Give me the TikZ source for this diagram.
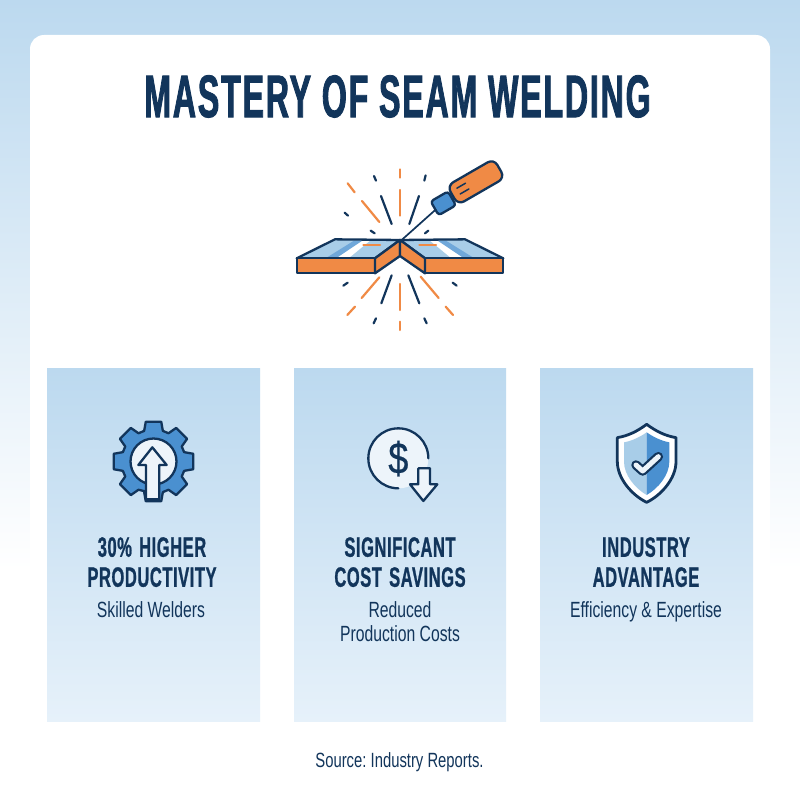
\documentclass[tikz,border=0pt]{standalone}
\usepackage{fontspec}
\setmainfont{Liberation Sans}
\newfontfamily\titlefont[FakeStretch=0.536,FakeBold=1.4,LetterSpace=3]{Liberation Sans Bold}
\newfontfamily\headfont[FakeStretch=0.59,FakeBold=0.8,LetterSpace=2,WordSpace=1.4]{Liberation Sans Bold}
\newfontfamily\subfont[FakeStretch=0.715]{Liberation Sans}
\newfontfamily\srcfont[FakeStretch=0.72]{Liberation Sans}
\newfontfamily\dollarfont[FakeStretch=0.82,FakeBold=0.5]{Liberation Sans}
\usetikzlibrary{calc}
\definecolor{navy}{HTML}{12355B}
\definecolor{sky}{HTML}{BCD9EF}
\definecolor{panelend}{HTML}{E6F1FA}
\definecolor{midblue}{HTML}{4A90D0}
\definecolor{paleblue}{HTML}{A8CDE8}
\definecolor{softwhite}{HTML}{EDF4FA}
\definecolor{torange}{HTML}{F08A45}
\tikzset{
  panel/.style={top color=sky,bottom color=panelend,draw=none},
  heading/.style={anchor=north,inner sep=0pt,align=center,text=navy,font=\headfont\fontsize{28}{30}\selectfont},
  subtext/.style={anchor=north,inner sep=0pt,align=center,text=navy,font=\subfont\fontsize{22}{24.5}\selectfont},
  ink/.style={draw=navy,line width=2.3pt,line join=round,line cap=round},
  sparko/.style={draw=torange,line width=2.2pt,line cap=round},
  sparkn/.style={draw=navy,line width=2.2pt,line cap=round},
  zoomed/.style={x=0.3333pt,y=-0.3333pt},
}
\begin{document}
\frenchspacing
\begin{tikzpicture}[x=1pt,y=-1pt]
\useasboundingbox (0,0) rectangle (800,800);
\fill[white] (0,0) rectangle (800,800);
\shade[top color=sky,bottom color=white] (0,0) rectangle (800,570);
\fill[white,rounded corners=14pt] (30,35) rectangle (770,800);
\shade[panel] (47,368) rectangle (260,721);
\shade[panel] (294,368) rectangle (506,721);
\shade[panel] (540,368) rectangle (753,721);

\node[anchor=north,inner sep=0pt,text=navy,font=\titlefont\fontsize{60}{62}\selectfont] (title) at (397.5,75) {MASTERY OF SEAM WELDING};

% welding illustration
\begin{scope}[shift={(280,150)},zoomed]
  \foreach \a/\b/\c/\d in {360/58/360/83,360/120/360/197,203/100/224/127,246/153/298/216,360/402/360/480,360/515/360/540,298/382/245/444,225/470/202/495,422/380/476/444,497/470/519/495}
    \draw[sparko] (\a,\b) -- (\c,\d);
  \foreach \a/\b/\c/\d in {282/78/288/92,437/76/433/92,303/138/335/222,417/138/388/222,194/188/204/197,272/242/284/250,445/242/435/250,335/376/304/460,385/376/418/460,203/398/190/407,518/398/530/407,288/505/281/520,433/505/440/520}
    \draw[sparkn] (\a,\b) -- (\c,\d);
  % plate tops
  \fill[paleblue] (50,325) -- (165,268) -- (360,270) -- (285,325) -- cycle;
  \fill[paleblue] (670,325) -- (555,268) -- (360,270) -- (435,325) -- cycle;
  \fill[midblue!60!paleblue] (140,323) -- (222,272) -- (248,272) -- (172,323) -- cycle;
  \fill[midblue!60!paleblue] (580,323) -- (498,272) -- (472,272) -- (548,323) -- cycle;
  \fill[white] (172,323) -- (248,272) -- (270,272) -- (208,323) -- cycle;
  \fill[white] (548,323) -- (472,272) -- (450,272) -- (512,323) -- cycle;
  \draw[sparko] (250,284) -- (300,284);
  \draw[sparko] (418,284) -- (468,284);
  \draw[ink] (50,325) -- (165,268) -- (360,270) -- (285,325) -- cycle;
  \draw[ink] (670,325) -- (555,268) -- (360,270) -- (435,325) -- cycle;
  % plate fronts
  \filldraw[ink,fill=torange] (50,325) -- (285,325) -- (285,370) -- (50,370) -- cycle;
  \filldraw[ink,fill=torange] (285,325) -- (360,270) -- (360,318) -- (285,370) -- cycle;
  \filldraw[ink,fill=torange] (670,325) -- (435,325) -- (435,370) -- (670,370) -- cycle;
  \filldraw[ink,fill=torange] (435,325) -- (360,270) -- (360,318) -- (435,370) -- cycle;
  % torch
  \draw[navy,line width=1.7pt] (365,270) -- (468,178);
  \begin{scope}[shift={(490,160)},rotate=30]
    \filldraw[ink,fill=midblue,rounded corners=3pt] (-30,-24) rectangle (30,24);
  \end{scope}
  \begin{scope}[shift={(580,100)},rotate=30]
    \filldraw[ink,fill=torange,rounded corners=7pt] (-72,-33) -- (90,-33) -- (90,33) -- (-72,33) -- cycle;
    \draw[navy,line width=1.5pt,line cap=round] (-50,-12) -- (-20,-12);
    \draw[navy,line width=1.5pt,line cap=round] (-50,8) -- (-20,8);
  \end{scope}
\end{scope}

% gear
\begin{scope}[shift={(153.5,461.5)}]
  \filldraw[ink,fill=midblue] (107:31)
    \foreach \t in {90,45,0,-45,-90,-135,-180,-225} {
      -- ({\t+17}:32) -- ({\t+11}:40.5) -- ({\t-11}:40.5) -- ({\t-17}:32) }
    -- cycle;
  \filldraw[ink,fill=softwhite] (0,0) circle (23);
\end{scope}
\begin{scope}[shift={(100,410)},zoomed]
  \filldraw[ink,fill=softwhite] (157,112) -- (200,165) -- (178,165) -- (178,268) -- (138,268) -- (138,165) -- (115,165) -- cycle;
\end{scope}

% dollar
\begin{scope}[shift={(350,415)},zoomed]
  \fill[softwhite] (145,130) circle (90);
  \draw[ink] (235,130) arc[start angle=0,end angle=-270,radius=90];
  \node[inner sep=0pt,text=navy,font=\dollarfont\fontsize{44}{44}\selectfont] (dollar) at (145,131) {\$};
  \filldraw[ink,fill=softwhite] (205,160) -- (240,160) -- (240,208) -- (262,208) -- (220,258) -- (180,208) -- (205,208) -- cycle;
\end{scope}

% shield
\begin{scope}[shift={(600,415)},zoomed]
  \filldraw[draw=navy,line width=2.8pt,line join=round,fill=white] (140,28) .. controls (110,50) and (85,62) .. (52,68) -- (52,140) .. controls (52,190) and (95,240) .. (140,262) .. controls (185,240) and (228,190) .. (228,140) -- (228,68) .. controls (195,62) and (170,50) .. (140,28) -- cycle;
  \fill[paleblue] (140,52) .. controls (120,66) and (95,78) .. (72,82) -- (72,140) .. controls (72,180) and (105,220) .. (140,240) -- cycle;
  \fill[midblue] (140,52) .. controls (160,66) and (185,78) .. (208,82) -- (208,140) .. controls (208,180) and (175,220) .. (140,240) -- cycle;
  \draw[navy,line width=9.5pt,line cap=round,line join=round] (108,150) -- (128,168) -- (175,125);
  \draw[softwhite,line width=5pt,line cap=round,line join=round] (108,150) -- (128,168) -- (175,125);
\end{scope}

\node[heading] (h1) at (152,537) {30\% HIGHER\\PRODUCTIVITY};
\node[subtext] (s1) at (151,601) {Skilled Welders};
\node[heading] (h2) at (400,537) {SIGNIFICANT\\COST SAVINGS};
\node[subtext] (s2) at (400,601) {Reduced\\Production Costs};
\node[heading] (h3) at (646,537) {INDUSTRY\\ADVANTAGE};
\node[subtext] (s3) at (646,601) {Efficiency \& Expertise};
\node[anchor=north,inner sep=0pt,text=navy,font=\srcfont\fontsize{20.6}{24}\selectfont] (src) at (399.5,752) {Source: Industry Reports.};
\end{tikzpicture}
\end{document}
